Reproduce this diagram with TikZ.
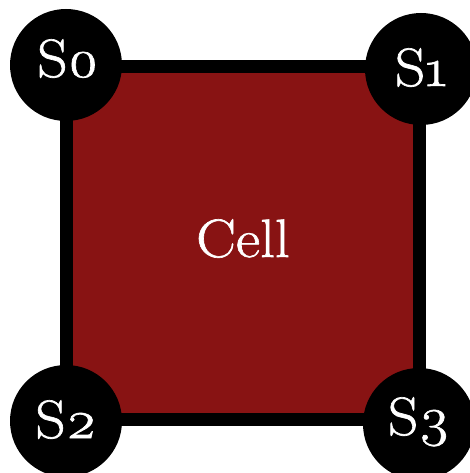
\documentclass[tikz,border=0pt]{standalone}
\usepackage{fontspec}
\setmainfont{Latin Modern Roman}[Numbers=OldStyle, FakeBold=1.2, FakeStretch=1.1]
\definecolor{cellred}{HTML}{881313}
\begin{document}
\begin{tikzpicture}[x=1pt,y=-1pt,
  corner/.style={circle, fill=black, inner sep=0pt, minimum size=112pt},
  lbl/.style={text=white, anchor=base, inner sep=0pt, font=\fontsize{54}{64}\selectfont},
  cellbox/.style={draw=black, line width=13pt, fill=cellred, minimum size=353pt, inner sep=0pt}]
\useasboundingbox (0,0) rectangle (469,473);
\node[cellbox] (cell) at (243,243) {};
\node[lbl] (cl) at (243,257) {Cell};
\node[corner] (s0) at (66,65) {};
\node[corner] (s1) at (421,69) {};
\node[corner] (s2) at (66,421) {};
\node[corner] (s3) at (419,424) {};
\node[lbl] (t0) at (68,77) {S0};
\node[lbl] (t1) at (421,86) {S1};
\node[lbl] (t2) at (66,438) {S2};
\node[lbl] (t3) at (419,435) {S3};
\end{tikzpicture}
\end{document}
